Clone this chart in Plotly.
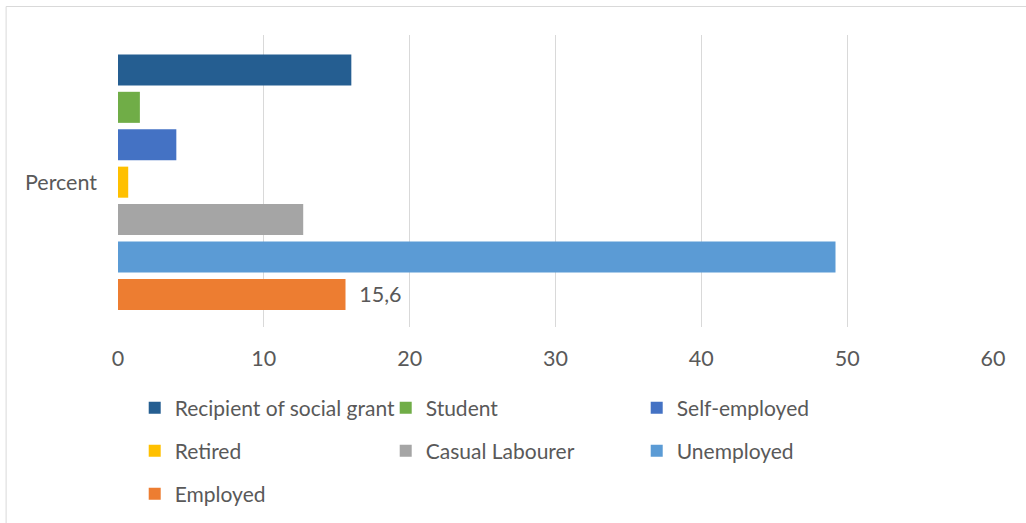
import plotly.graph_objects as go

categories = ["Recipient of social grant", "Student", "Self-employed", "Retired",
              "Casual Labourer", "Unemployed", "Employed"]
values = [16.0, 1.5, 4.0, 0.7, 12.7, 49.2, 15.6]
labels = ["", "", "", "", "", "", "15,6"]
colors = ["#255E91", "#70AD47", "#4472C4", "#FFC000", "#A5A5A5", "#5B9BD5", "#ED7D31"]
legend_rows = ["legend", "legend", "legend", "legend2", "legend2", "legend2", "legend3"]
group_label = ["Percent"]
x_ticks = [0, 10, 20, 30, 40, 50, 60]

FONT = "Lato"
FS = 21.5
LFS = 21
TXT = "#595959"

fig = go.Figure()
# add in reverse so the first category sits on top of the group
for i in reversed(range(len(categories))):
    fig.add_trace(go.Bar(
        y=group_label, x=[values[i]], name=categories[i], orientation="h",
        marker=dict(color=colors[i], line=dict(width=0)),
        text=[labels[i]], texttemplate="\u2002%{text}", textposition="outside",
        cliponaxis=False,
        textfont=dict(family=FONT, size=FS, color=TXT),
        legend=legend_rows[i],
    ))

W, H = 1026, 523
L, R, T, B = 118.3, 1026 - 992.7, 35, 523 - 327
pw, ph = W - L - R, H - T - B

def px_x(p):
    return (p - L) / pw

def px_y(p):
    return (H - B - p) / ph

leg_common = dict(orientation="h", traceorder="reversed", entrywidth=206,
                  entrywidthmode="pixels", xanchor="left", yanchor="middle",
                  font=dict(family=FONT, size=LFS, color=TXT),
                  bgcolor="rgba(0,0,0,0)", borderwidth=0)

fig.update_layout(
    width=W, height=H,
    margin=dict(l=L, r=R, t=T, b=B, autoexpand=False),
    paper_bgcolor="white", plot_bgcolor="white",
    barmode="group", bargap=0.103, bargroupgap=0.17,
    font=dict(family=FONT, size=FS, color=TXT),
    legend=dict(x=px_x(135), y=px_y(408), **leg_common),
    legend2=dict(x=px_x(135), y=px_y(451), **leg_common),
    legend3=dict(x=px_x(135), y=px_y(494), **leg_common),
    xaxis=dict(range=[0, 60], tickvals=x_ticks, showgrid=True, gridcolor="#D9D9D9",
               gridwidth=1, zeroline=False, showline=False, ticks="",
               ticklabelstandoff=16, tickfont=dict(family=FONT, size=FS, color=TXT)),
    yaxis=dict(range=[-0.496, 0.504], showgrid=False, zeroline=False, showline=False,
               ticks="", ticklabelstandoff=20, tickfont=dict(family=FONT, size=FS, color=TXT)),
    shapes=[dict(type="rect", xref="paper", yref="paper",
                 x0=px_x(6.5), x1=px_x(1100), y0=px_y(600), y1=px_y(6.5),
                 line=dict(color="#D9D9D9", width=1), fillcolor="rgba(0,0,0,0)", layer="below")],
    showlegend=True,
)

fig.write_html("out.html")
